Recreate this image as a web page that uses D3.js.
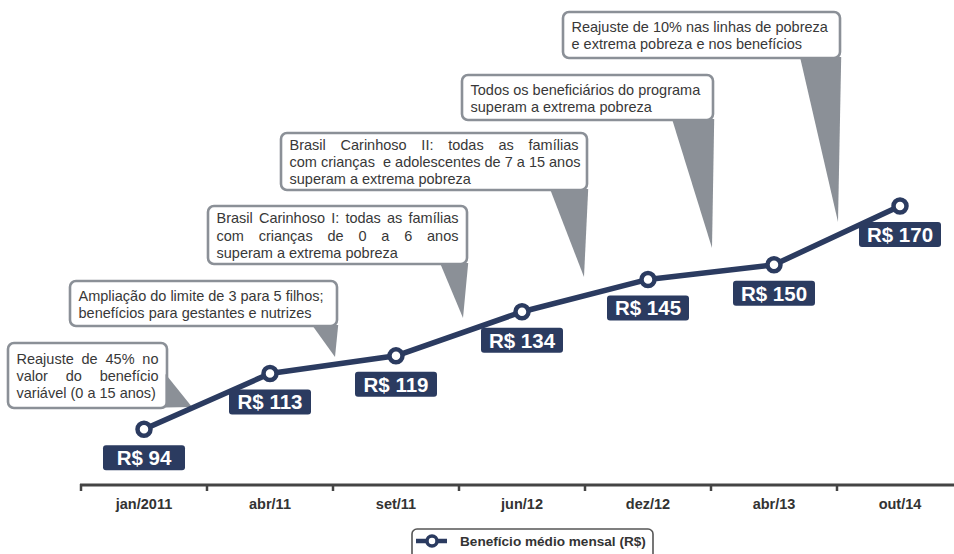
<!DOCTYPE html>
<html><head><meta charset="utf-8">
<script src="https://cdn.jsdelivr.net/npm/d3@7"></script>
<style>body{margin:0;background:#fff}svg{display:block}</style>
</head><body><svg id="c" width="954" height="554"></svg>
<script>
// ---------- DATA ----------
const categories = ["jan/2011","abr/11","set/11","jun/12","dez/12","abr/13","out/14"];
const values = [94,113,119,134,145,150,170];
const valueLabels = ["R$ 94","R$ 113","R$ 119","R$ 134","R$ 145","R$ 150","R$ 170"];
const notes = [
  ["Reajuste de 45% no","valor do benefício","variável (0 a 15 anos)"],
  ["Ampliação do limite de 3 para 5 filhos;","benefícios para gestantes e nutrizes"],
  ["Brasil Carinhoso I: todas as famílias","com crianças de 0 a 6 anos","superam a extrema pobreza"],
  ["Brasil Carinhoso II: todas as famílias","com crianças  e adolescentes de 7 a 15 anos","superam a extrema pobreza"],
  ["Todos os beneficiários do programa","superam a extrema pobreza"],
  ["Reajuste de 10% nas linhas de pobreza","e extrema pobreza e nos benefícios"]
];
const legendLabel = "Benefício médio mensal (R$)";

// ---------- LAYOUT ----------
const noteLayout = [
  {x:8,  y:343, w:159, h:65, justify:[true,true,false],  tail:[[165.5,374],[192,407],[165.5,407.5]]},
  {x:70, y:281, w:267, h:45, justify:[false,false],      tail:[[312,325],[338.2,325],[335,357]]},
  {x:208,y:206, w:259, h:58, justify:[true,true,false],  tail:[[440,263],[468.2,263],[463,318]]},
  {x:281,y:133, w:306, h:57, justify:[true,false,false], tail:[[550,189],[588.2,189],[584,277]]},
  {x:462,y:75,  w:251, h:45, justify:[false,false],      tail:[[672,119],[714.2,119],[712,248]]},
  {x:563,y:12,  w:277, h:46, justify:[false,false],      tail:[[800,57],[841.2,57],[838,222]]}
];
const NAVY = "#2b3b60", GRAY = "#8b9097", TXT = "#383838";
const FONT = "'Liberation Sans', Arial, Helvetica, sans-serif";

const svg = d3.select("#c");
const x = d3.scaleBand().domain(categories).range([81, 81 + 7*126]);
const y = d3.scaleLinear().domain([94,170]).range([429.3,206]);
const cx = c => x(c) + x.bandwidth()/2;

// ---------- CALLOUTS ----------
notes.forEach((lines,i) => {
  const L = noteLayout[i];
  const g = svg.append("g");
  g.append("rect").attr("x",L.x).attr("y",L.y).attr("width",L.w).attr("height",L.h)
    .attr("rx",6).attr("fill","#fff").attr("stroke",GRAY).attr("stroke-width",2.6);
  g.append("polygon").attr("points",L.tail.map(p=>p.join(",")).join(" ")).attr("fill",GRAY);
  const pad = 8.5, cw = L.w - 2*pad, lh = 17.2;
  const base0 = L.y + (L.h - lines.length*lh)/2 + 14.2;
  lines.forEach((line,j) => {
    const by = base0 + j*lh;
    if (L.justify[j]) {
      const words = line.split(/\s+/);
      const ts = words.map(w => g.append("text").attr("y",by).attr("font-family",FONT)
        .attr("font-size",14.5).attr("fill",TXT).text(w));
      const widths = ts.map(t => t.node().getComputedTextLength());
      const sum = d3.sum(widths);
      const gap = words.length>1 ? (cw - sum)/(words.length-1) : 0;
      let xx = L.x + pad;
      ts.forEach((t,k) => { t.attr("x", xx); xx += widths[k] + gap; });
    } else {
      g.append("text").attr("x",L.x+pad).attr("y",by).attr("font-family",FONT)
        .attr("font-size",14.5).attr("fill",TXT).style("white-space","pre").text(line);
    }
  });
});

// ---------- AXIS ----------
const ax = svg.append("g");
ax.append("line").attr("x1",80).attr("x2",954).attr("y1",485).attr("y2",485)
  .attr("stroke","#444").attr("stroke-width",3);
categories.forEach(c => {
  ax.append("line").attr("x1",x(c)).attr("x2",x(c)).attr("y1",484).attr("y2",491)
    .attr("stroke","#444").attr("stroke-width",2.5);
  ax.append("text").attr("x",cx(c)).attr("y",508.5).attr("text-anchor","middle")
    .attr("font-family",FONT).attr("font-weight","bold").attr("font-size",14.5)
    .attr("fill","#333").text(c);
});

// ---------- LINE ----------
const pts = categories.map((c,i)=>[cx(c), y(values[i])]);
svg.append("path").attr("d", d3.line()(pts)).attr("fill","none")
  .attr("stroke",NAVY).attr("stroke-width",5.5).attr("stroke-linejoin","round");
svg.selectAll("circle.pt").data(pts).join("circle").attr("class","pt")
  .attr("cx",d=>d[0]).attr("cy",d=>d[1]).attr("r",6.5)
  .attr("fill","#fff").attr("stroke",NAVY).attr("stroke-width",4.5);

// ---------- VALUE LABELS ----------
pts.forEach((p,i) => {
  const top = p[1] + 16;
  svg.append("rect").attr("x",p[0]-41).attr("y",top).attr("width",82).attr("height",25)
    .attr("rx",3).attr("fill",NAVY);
  svg.append("text").attr("x",p[0]).attr("y",top+20).attr("text-anchor","middle")
    .attr("font-family",FONT).attr("font-weight","bold").attr("font-size",20.5)
    .attr("fill","#fff").text(valueLabels[i]);
});

// ---------- LEGEND ----------
const lg = svg.append("g");
lg.append("rect").attr("x",412).attr("y",529).attr("width",241).attr("height",40)
  .attr("rx",5).attr("fill","#fff").attr("stroke","#555").attr("stroke-width",1.6);
lg.append("line").attr("x1",416).attr("x2",447).attr("y1",541).attr("y2",541)
  .attr("stroke",NAVY).attr("stroke-width",4.5);
lg.append("circle").attr("cx",432).attr("cy",541).attr("r",5)
  .attr("fill","#fff").attr("stroke",NAVY).attr("stroke-width",3.5);
lg.append("text").attr("x",460).attr("y",546).attr("font-family",FONT)
  .attr("font-weight","bold").attr("font-size",13.6).attr("fill","#333").text(legendLabel);
</script></body></html>
